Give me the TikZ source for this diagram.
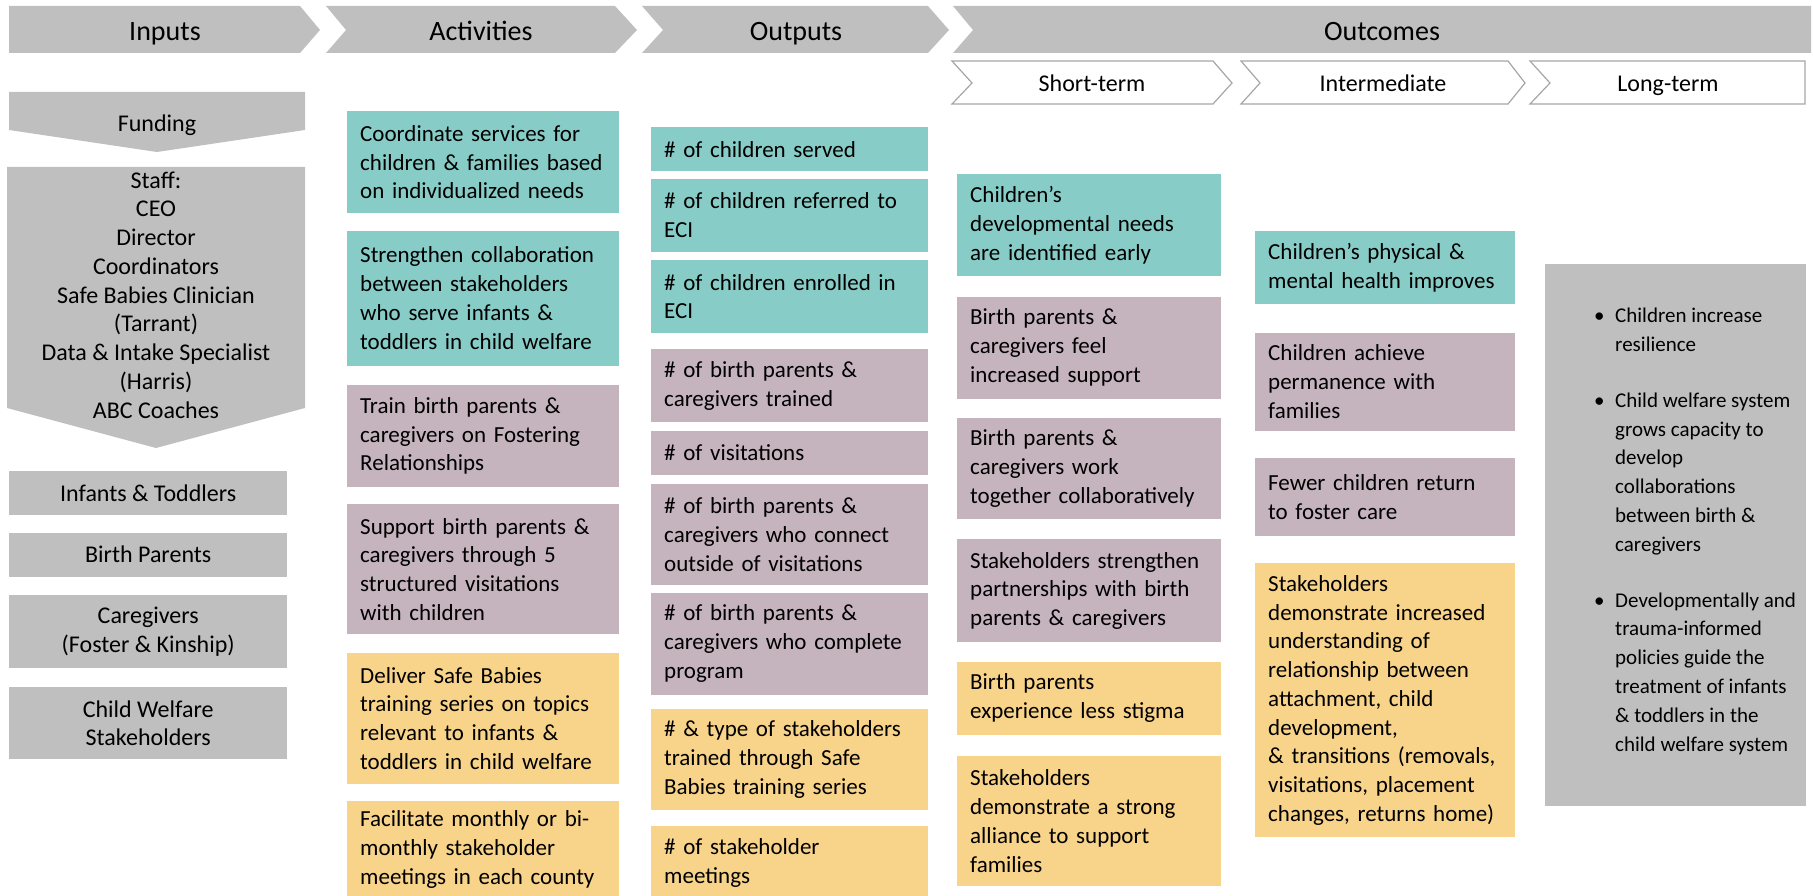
\documentclass[tikz,border=0pt]{standalone}
\usepackage{fontspec}
\setmainfont{Carlito}
\usetikzlibrary{positioning}
\definecolor{hdrFill}{HTML}{BFBFBF}
\definecolor{tealFill}{HTML}{88CCC7}
\definecolor{mauveFill}{HTML}{C5B3BE}
\definecolor{goldFill}{HTML}{F8D38A}
\definecolor{lineGray}{HTML}{A6A6A6}
\tikzset{
    Body/.style = {font=\fontsize{24}{28.5}\selectfont},
    Box/.style = {font=\fontsize{23}{28.75}\selectfont, inner xsep=13pt, inner ysep=0pt,
        align=left, execute at begin node={\hyphenpenalty=10000}},
    ActBox/.style = {Box, text width=246pt, minimum width=272pt},
    OutBox/.style = {Box, text width=251pt, minimum width=277pt},
    ShortBox/.style = {Box, text width=238pt, minimum width=264pt},
    MidBox/.style = {Box, text width=234pt, minimum width=260pt},
    InBox/.style = {Body, fill=hdrFill, align=center, inner sep=0pt,
        minimum width=278pt},
    Head/.style = {font=\fontsize{28}{32}\selectfont, anchor=base},
    SubHead/.style = {font=\fontsize{24}{28}\selectfont, anchor=base},
    Chev/.style = {fill=hdrFill},
    SubChev/.style = {fill=white, draw=lineGray, line width=1.2pt}
}

\begin{document}
\begin{tikzpicture}[x=1pt, y=-1pt]
    \useasboundingbox (0,0) rectangle (1813,896);

    % column heads
    \fill[Chev] (9,6) -- (300,6) -- (320,30) -- (300,53) -- (9,53) -- cycle;
    \fill[Chev] (326,6) -- (615,6) -- (637,30) -- (615,53) -- (326,53) -- (346,30) -- cycle;
    \fill[Chev] (642,6) -- (928,6) -- (949,30) -- (928,53) -- (642,53) -- (663,30) -- cycle;
    \fill[Chev] (953,6) -- (1811,6) -- (1811,53) -- (953,53) -- (973,30) -- cycle;
    \node[Head] (inputs) at (165,41) {Inputs};
    \node[Head] (activities) at (481,41) {Activities};
    \node[Head] (outputs) at (796,41) {Outputs};
    \node[Head] (outcomes) at (1382,41) {Outcomes};

    \draw[SubChev] (952,61) -- (1213,61) -- (1232,83) -- (1213,104) -- (952,104) -- (972,83) -- cycle;
    \draw[SubChev] (1241,61) -- (1508,61) -- (1525,83) -- (1508,104) -- (1241,104) -- (1260,83) -- cycle;
    \draw[SubChev] (1530,61) -- (1805,61) -- (1805,104) -- (1530,104) -- (1550,83) -- cycle;
    \node[SubHead] (shortterm) at (1092,92) {Short-term};
    \node[SubHead] (intermediate) at (1383,92) {Intermediate};
    \node[SubHead] (longterm) at (1668,92) {Long-term};

    % inputs
    \fill[Chev] (9,92) -- (305,92) -- (305,130) -- (157,152) -- (9,130) -- cycle;
    \node[Body] (funding) at (157,125) {Funding};
    \fill[Chev] (7,167) -- (305,167) -- (305,408) -- (156,448) -- (7,408) -- cycle;
    \node[Body, align=center, font=\fontsize{24}{28.75}\selectfont] (staff) at (156,295)
        {Staff:\\CEO\\Director\\Coordinators\\Safe Babies Clinician\\(Tarrant)\\Data \& Intake Specialist\\(Harris)\\ABC Coaches};
    \node[InBox, minimum height=44pt, anchor=north west] (infants) at (9,471) {Infants \& Toddlers};
    \node[InBox, minimum height=44pt, below=17pt of infants] (parents) {Birth Parents};
    \node[InBox, minimum height=73pt, below=18pt of parents] (caregivers) {Caregivers\\(Foster \& Kinship)};
    \node[InBox, minimum height=72pt, below=19pt of caregivers] (welfare) {Child Welfare\\Stakeholders};

    % activities
    \node[ActBox, fill=tealFill, minimum height=102pt, anchor=north west] (coord) at (347,111)
        {Coordinate services for\\children \& families based\\on individualized needs};
    \node[ActBox, fill=tealFill, minimum height=135pt, below=17pt of coord] (collab)
        {Strengthen collaboration\\between stakeholders\\who serve infants \&\\toddlers in child welfare};
    \node[ActBox, fill=mauveFill, minimum height=102pt, below=19pt of collab] (train)
        {Train birth parents \&\\caregivers on Fostering\\Relationships};
    \node[ActBox, fill=mauveFill, minimum height=130pt, below=17pt of train] (visit)
        {Support birth parents \&\\caregivers through 5\\structured visitations\\with children};
    \node[ActBox, fill=goldFill, minimum height=131pt, below=18pt of visit] (deliver)
        {Deliver Safe Babies\\training series on topics\\relevant to infants \&\\toddlers in child welfare};
    \node[ActBox, fill=goldFill, minimum height=97pt, below=17pt of deliver] (facilitate)
        {Facilitate monthly or bi-\\monthly stakeholder\\meetings in each county};

    % outputs
    \node[OutBox, fill=tealFill, minimum height=44pt, anchor=north west] (served) at (651,127)
        {\# of children served};
    \node[OutBox, fill=tealFill, minimum height=73pt, below=7pt of served] (referred)
        {\# of children referred to\\ECI};
    \node[OutBox, fill=tealFill, minimum height=73pt, below=8pt of referred] (enrolled)
        {\# of children enrolled in\\ECI};
    \node[OutBox, fill=mauveFill, minimum height=73pt, below=16pt of enrolled] (trained)
        {\# of birth parents \&\\caregivers trained};
    \node[OutBox, fill=mauveFill, minimum height=44pt, below=8pt of trained] (visits)
        {\# of visitations};
    \node[OutBox, fill=mauveFill, minimum height=101pt, below=9pt of visits] (connect)
        {\# of birth parents \&\\caregivers who connect\\outside of visitations};
    \node[OutBox, fill=mauveFill, minimum height=102pt, below=7pt of connect] (complete)
        {\# of birth parents \&\\caregivers who complete\\program};
    \node[OutBox, fill=goldFill, minimum height=101pt, below=14pt of complete] (types)
        {\# \& type of stakeholders\\trained through Safe\\Babies training series};
    \node[OutBox, fill=goldFill, minimum height=73pt, below=16pt of types] (meetings)
        {\# of stakeholder\\meetings};

    % short-term outcomes
    \node[ShortBox, fill=tealFill, minimum height=102pt, anchor=north west] (devneeds) at (957,174)
        {Children’s\\developmental needs\\are identified early};
    \node[ShortBox, fill=mauveFill, minimum height=102pt, below=20pt of devneeds] (feel)
        {Birth parents \&\\caregivers feel\\increased support};
    \node[ShortBox, fill=mauveFill, minimum height=101pt, below=19pt of feel] (together)
        {Birth parents \&\\caregivers work\\together collaboratively};
    \node[ShortBox, fill=mauveFill, minimum height=103pt, below=20pt of together] (partner)
        {Stakeholders strengthen\\partnerships with birth\\parents \& caregivers};
    \node[ShortBox, fill=goldFill, minimum height=73pt, below=19pt of partner] (stigma)
        {Birth parents\\experience less stigma};
    \node[ShortBox, fill=goldFill, minimum height=130pt, below=21pt of stigma] (alliance)
        {Stakeholders\\demonstrate a strong\\alliance to support\\families};

    % intermediate outcomes
    \node[MidBox, fill=tealFill, minimum height=73pt, anchor=north west] (health) at (1255,231)
        {Children’s physical \&\\mental health improves};
    \node[MidBox, fill=mauveFill, minimum height=98pt, below=28pt of health] (permanence)
        {Children achieve\\permanence with\\families};
    \node[MidBox, fill=mauveFill, minimum height=78pt, below=27pt of permanence] (fewer)
        {Fewer children return\\to foster care};
    \node[MidBox, fill=goldFill, minimum height=274pt, below=27pt of fewer] (understand)
        {Stakeholders\\demonstrate increased\\understanding of\\relationship between\\attachment, child\\development,\\\& transitions (removals,\\visitations, placement\\changes, returns home)};

    % long-term outcomes
    \node[fill=hdrFill, minimum width=261pt, minimum height=542pt, anchor=north west] (longbox) at (1545,264) {};
    \node[align=left, inner sep=0pt, anchor=west, font=\fontsize{21}{28.8}\selectfont]
        (longtext) at ([xshift=49pt, yshift=4pt]longbox.west)
        {\makebox[21pt][l]{\textbullet}Children increase\\
         \hspace*{21pt}resilience\\[27pt]
         \makebox[21pt][l]{\textbullet}Child welfare system\\
         \hspace*{21pt}grows capacity to\\
         \hspace*{21pt}develop\\
         \hspace*{21pt}collaborations\\
         \hspace*{21pt}between birth \&\\
         \hspace*{21pt}caregivers\\[27pt]
         \makebox[21pt][l]{\textbullet}Developmentally and\\
         \hspace*{21pt}trauma-informed\\
         \hspace*{21pt}policies guide the\\
         \hspace*{21pt}treatment of infants\\
         \hspace*{21pt}\& toddlers in the\\
         \hspace*{21pt}child welfare system};
\end{tikzpicture}
\end{document}
